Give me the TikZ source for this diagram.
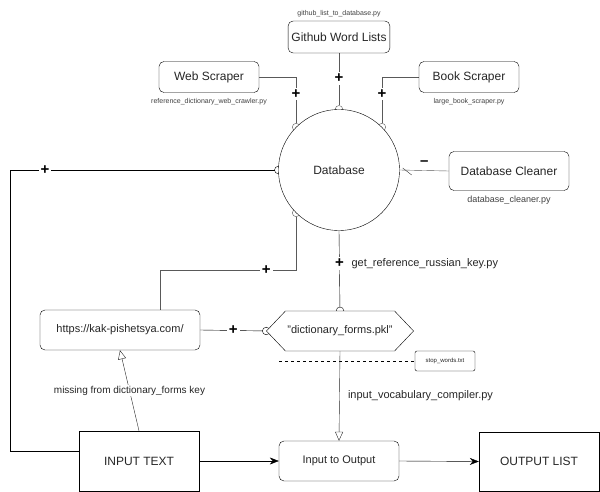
\documentclass[tikz,border=0pt]{standalone}
\usepackage{fontspec}
\setmainfont{Liberation Sans}
\usetikzlibrary{positioning,shapes.geometric,shapes.symbols,arrows.meta,backgrounds}

\begin{document}
\begin{tikzpicture}[x=1pt,y=-1pt,
  every node/.style={text=black!85},
  box/.style={draw,rectangle,rounded corners=5pt,fill=white,minimum width=100pt,minimum height=31pt,font=\fontsize{12}{14}\selectfont},
  bigbox/.style={draw,rectangle,fill=white,minimum width=120pt,minimum height=60pt,font=\fontsize{12}{14}\selectfont},
  note/.style={font=\fontsize{7}{8}\selectfont,text=black!75,inner sep=1pt},
  plus/.style={fill=white,inner sep=2pt,font=\fontsize{15}{15}\bfseries\selectfont,text=black},
  link/.style={draw=black!65,-{Circle[open,length=8pt,width=8pt]},shorten >=-4pt},
  flow/.style={draw=black,-{Stealth[length=9pt,width=7pt]}},
  hollow/.style={draw=black!85,-{Triangle[open,length=9pt,width=8pt]}}]
\useasboundingbox (0,0) rectangle (600,492);

% sources feeding the database
\node[draw,circle,fill=white,minimum size=121pt,font=\fontsize{12}{14}\selectfont] (db) at (339,170) {Database};
\node[box,minimum height=32pt] (github) at (339,37) {Github Word Lists};
\node[note] (githubpy) [above=3pt of github] {github\_list\_to\_database.py};
\node[box] (web) at (209,77) {Web Scraper};
\node[note] (webpy) [below=5pt of web] {reference\_dictionary\_web\_crawler.py};
\node[box] (book) at (469,77) {Book Scraper};
\node[note] (bookpy) [below=5pt of book] {large\_book\_scraper.py};
\node[box,minimum width=120pt,minimum height=39pt] (clean) at (509,171) {Database Cleaner};
\node[note,font=\fontsize{9}{10}\selectfont] (cleanpy) [below=4pt of clean] {database\_cleaner.py};

% lookup and compile
\node[box,minimum width=160pt,minimum height=40pt,font=\fontsize{11}{13}\selectfont] (kak) at (120,330) {https://kak-pishetsya.com/};
\node[draw,signal,signal to=west and east,signal pointer angle=93,fill=white,minimum width=134pt,minimum height=40pt,inner xsep=2pt,font=\fontsize{11}{13}\selectfont] (dict) at (340,331) {"dictionary\_forms.pkl"};
\node[draw,rectangle,rounded corners=2pt,minimum width=60pt,minimum height=20pt,font=\fontsize{6}{7}\selectfont] (stop) at (445,361) {stop\_words.txt};
\coordinate (dashstart) at (279,361);

% main flow
\node[bigbox] (intext) at (139,461) {INPUT TEXT};
\node[box,minimum width=120pt,minimum height=40pt,font=\fontsize{11}{13}\selectfont] (inout) at (339,461) {Input to Output};
\node[bigbox,minimum height=59pt] (outlist) at (539,461.5) {OUTPUT LIST};

\begin{pgfonlayer}{background}
\draw[link] (github) -- node[plus,pos=0.45]{+} (db);
\draw[link] (web.east) -| node[plus,pos=0.67]{+} (db.135);
\draw[link] (book.west) -| node[plus,pos=0.67]{+} (db.45);
\draw[draw=black!65] (clean.west) -- node[above=1pt,font=\fontsize{15}{15}\bfseries\selectfont,text=black]{--} (db.east);
\draw[draw=black!80] ([shift={(3,-2)}]db.east) -- ([shift={(12,5)}]db.east);
\draw[link,draw=black] ([yshift=10pt]intext.west) -| (10,170) -- node[plus,pos=0.13]{+} (db.west);
\draw[link] ([xshift=40pt]kak.north) -- ++(0,-40) -| node[plus,pos=0.39]{+} (db.225);
\draw[link,draw=black] (db.south) -- node[plus,pos=0.41](plusdict){+} (dict.north);
\node[font=\fontsize{11}{13}\selectfont,anchor=west] (getref) [right=2pt of plusdict] {get\_reference\_russian\_key.py};
\draw[link,draw=black] (kak.east) -- node[plus]{+} (dict.west);
\draw[dash pattern=on 3pt off 3pt,thin] (dashstart) -- (stop.west);
\end{pgfonlayer}

\draw[hollow] (dict.south) -- node[right=5pt,font=\fontsize{11}{13}\selectfont]{input\_vocabulary\_compiler.py} (inout.north);
\draw[hollow] (intext.north) -- node[fill=white,inner sep=1pt,font=\fontsize{10}{12}\selectfont]{missing from dictionary\_forms key} (kak.south);
\draw[flow] (intext.east) -- (inout.west);
\draw[flow] (inout.east) -- (outlist.west);
\end{tikzpicture}
\end{document}
